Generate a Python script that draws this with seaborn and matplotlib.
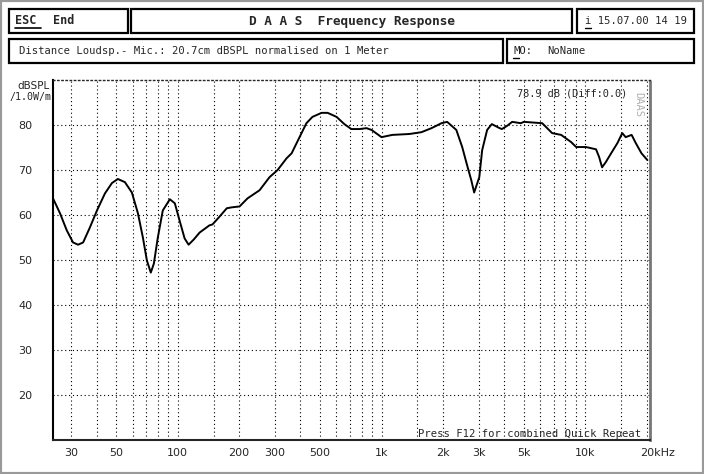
import numpy as np
import pandas as pd
import matplotlib
matplotlib.use('Agg')
import matplotlib.pyplot as plt
import matplotlib.patches as patches
import matplotlib.transforms as mtransforms
import seaborn as sns

# frequency response
freq = [24.4, 26.4, 28.5, 30.6, 32.4, 34.3, 37.0, 40.1, 43.9, 47.5, 50.8, 55.0, 59.5,
        63.7, 67.4, 70.5, 73.7, 76.3, 79.8, 84.4, 91.4, 96.7, 102, 108, 113, 120, 128,
        143, 148, 160, 174, 184, 201, 220, 252, 282, 309, 342, 362, 396, 428, 458, 508,
        544, 602, 657, 711, 781, 844, 894, 1000, 1130, 1370, 1570, 1760, 1970, 2100,
        2330, 2490, 2630, 2760, 2850, 3020, 3120, 3300, 3480, 3800, 3900, 4130, 4380,
        4830, 5000, 6150, 6880, 7620, 8530, 9030, 10100, 11300, 11700, 12100, 12600,
        13400, 14400, 15200, 15800, 16900, 17700, 18900, 20200]
spl = [63.7, 60.4, 56.6, 53.9, 53.4, 53.9, 57.2, 61.0, 64.8, 67.1, 68.0, 67.3, 65.0,
       60.4, 55.0, 49.9, 47.2, 49.2, 55.0, 61.0, 63.5, 62.6, 58.8, 54.8, 53.4, 54.6, 56.1,
       57.7, 57.9, 59.6, 61.5, 61.7, 61.9, 63.7, 65.5, 68.4, 70.0, 72.6, 73.7, 77.3, 80.4,
       81.8, 82.7, 82.7, 81.8, 80.2, 79.1, 79.1, 79.3, 78.9, 77.3, 77.8, 78.0, 78.4, 79.3,
       80.4, 80.7, 78.9, 75.1, 71.1, 67.7, 65.0, 68.4, 74.4, 78.9, 80.2, 79.3, 79.1, 79.8,
       80.7, 80.4, 80.7, 80.4, 78.2, 77.8, 76.2, 75.1, 75.1, 74.6, 72.9, 70.6, 71.7, 73.7,
       76.0, 78.2, 77.3, 77.8, 76.0, 73.7, 72.2]

x_ticks = [30, 50, 100, 200, 300, 500, 1000, 2000, 3000, 5000, 10000, 20000]
x_labels = ['30', '50', '100', '200', '300', '500', '1k', '2k', '3k', '5k', '10k', '20kHz']
x_grid = [40, 60, 70, 80, 90, 150, 400, 600, 700, 800, 900, 1500,
          4000, 6000, 7000, 8000, 9000, 15000]
y_ticks = [20, 30, 40, 50, 60, 70, 80]

df = pd.DataFrame({'freq': freq, 'spl': spl})

W, H = 704, 474
sns.set_style('white')
plt.rcParams['font.family'] = ['DejaVu Sans']
fig = plt.figure(figsize=(W / 100, H / 100), dpi=100)
fig.patch.set_facecolor('white')

def fx(px):
    return px / W

def fy(py):
    return 1 - py / H

mono = 'DejaVu Sans Mono'

# outer hatched frame
fig.patches.append(patches.Rectangle((0, 0), 1, 1, transform=fig.transFigure, fill=False,
                                     edgecolor='#9a9a9a', lw=3))

# header boxes
boxes = [(9, 9, 128, 33), (131, 9, 572, 33), (577, 9, 694, 33),
         (9, 39, 503, 63), (507, 39, 694, 63)]
for x0, y0, x1, y1 in boxes:
    fig.patches.append(patches.Rectangle((fx(x0), fy(y1)), fx(x1 - x0), (y1 - y0) / H,
                                         transform=fig.transFigure, fill=False,
                                         edgecolor='black', lw=1.6))

fig.text(fx(15), fy(21), 'ESC', family=mono, weight='bold', fontsize=8.5, va='center')
fig.add_artist(plt.Line2D([fx(15), fx(41)], [fy(28), fy(28)], color='black', lw=1.2))
fig.text(fx(53), fy(21), 'End', family=mono, weight='bold', fontsize=8.5, va='center')
fig.text(fx(352), fy(21), 'D A A S  Frequency Response', family=mono, weight='bold',
         fontsize=9.2, va='center', ha='center')
fig.text(fx(585), fy(21), 'i 15.07.00 14 19', family=mono, fontsize=7.6, va='center')
fig.add_artist(plt.Line2D([fx(585), fx(591)], [fy(28), fy(28)], color='black', lw=1))
fig.text(fx(19), fy(51), 'Distance Loudsp.- Mic.: 20.7cm dBSPL normalised on 1 Meter',
         family=mono, fontsize=7.6, va='center')
fig.text(fx(513), fy(51), 'MO:', family=mono, fontsize=7.6, va='center')
fig.add_artist(plt.Line2D([fx(513), fx(519)], [fy(58), fy(58)], color='black', lw=1))
fig.text(fx(547), fy(51), 'NoName', family=mono, fontsize=7.6, va='center')

# plot area
ax = fig.add_axes([fx(53), fy(440), fx(650 - 53), (440 - 80) / H])
sns.lineplot(data=df, x='freq', y='spl', ax=ax, color='black', lw=1.4, sort=False)
ax.set_xscale('log')
ax.set_xlim(24.4, 20800)
ax.set_ylim(10, 90)
ax.set_xticks(x_ticks)
ax.set_xticklabels(x_labels)
ax.set_xticks(x_grid, minor=True)
ax.set_xticklabels([], minor=True)
ax.set_yticks(y_ticks)
ax.tick_params(axis='both', which='both', length=0, labelsize=8)
ax.tick_params(axis='x', pad=6)
ax.tick_params(axis='y', pad=15)
ax.set_xlabel('')
ax.set_ylabel('')
ax.grid(True, which='both', color='black', linestyle=(0, (1, 2.5)), lw=0.8)

shift = mtransforms.ScaledTranslation(8 / 72, 0, fig.dpi_scale_trans)
last = ax.get_xticklabels()[-1]
last.set_transform(last.get_transform() + shift)

ax.spines['left'].set_color('black')
ax.spines['left'].set_linewidth(1.5)
ax.spines['bottom'].set_linestyle((0, (1, 1)))
ax.spines['bottom'].set_linewidth(1.5)
ax.spines['top'].set_linestyle((0, (1, 2)))
ax.spines['top'].set_linewidth(1)
ax.spines['right'].set_color('#777777')
ax.spines['right'].set_linestyle((0, (1, 1)))
ax.spines['right'].set_linewidth(2)

fig.text(fx(33), fy(86), 'dBSPL', fontsize=7.5, ha='center', va='center')
fig.text(fx(31), fy(97), '/1.0W/m', family=mono, fontsize=7.2, ha='center', va='center')
fig.text(fx(517), fy(94), '78.9 dB (Diff:0.0)', family=mono, fontsize=7.4, va='center')
fig.text(fx(638), fy(104), 'DAAS', family=mono, fontsize=7.5, color='#b0b0b0',
         rotation=270, ha='center', va='center')
fig.text(fx(418), fy(434), 'Press F12 for combined Quick Repeat', family=mono,
         fontsize=7.6, va='center')

fig.savefig('out.png', dpi=100)
